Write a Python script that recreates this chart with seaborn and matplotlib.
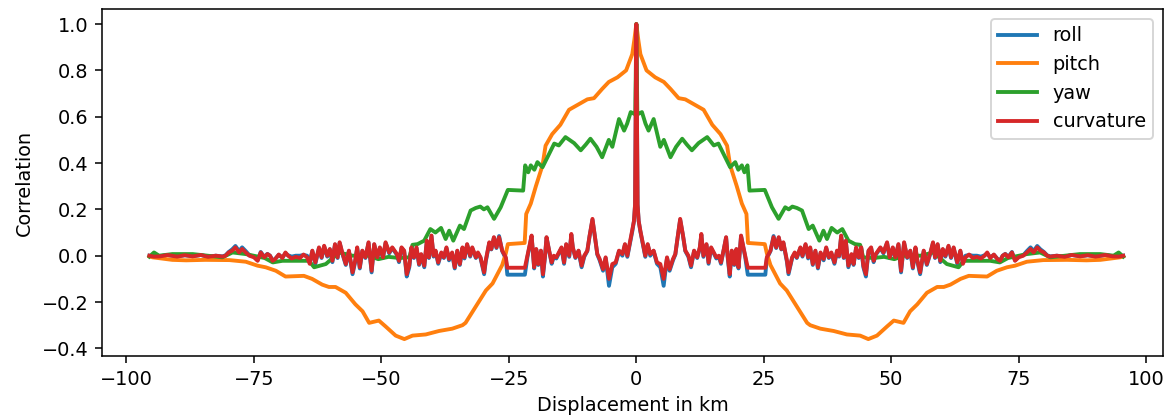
import numpy as np
import pandas as pd
import matplotlib
matplotlib.use("Agg")
import matplotlib.pyplot as plt
import seaborn as sns

# Correlation vs displacement for displacement >= 0.
# The curves are autocorrelations, so the negative side is the mirror image.
series_names = ["roll", "pitch", "yaw", "curvature"]

pitch_x = [0.0, 0.4, 0.8, 2.0, 3.7, 5.4, 6.7, 8.3, 9.6, 11.2, 13.2, 14.9, 16.5, 17.8,
           18.4, 19.7, 20.7, 21.6, 21.9, 25.2, 25.6, 26.3, 28.2, 29.5, 31.5, 33.5, 34.1,
           36.1, 38.7, 41.3, 43.9, 45.5, 47.2, 49.2, 50.5, 52.4, 53.7, 55.1, 57.0, 59.0,
           60.3, 61.6, 63.6, 65.2, 68.8, 70.7, 72.7, 74.3, 76.6, 79.8, 84.5, 88.3, 91.0,
           94.9, 95.5]
pitch_y = [1.0, 0.93, 0.87, 0.80, 0.77, 0.75, 0.72, 0.68, 0.675, 0.655, 0.63, 0.565, 0.525,
           0.475, 0.39, 0.30, 0.225, 0.18, 0.055, 0.05, 0.01, -0.04, -0.12, -0.15, -0.22,
           -0.29, -0.30, -0.315, -0.325, -0.34, -0.345, -0.36, -0.345, -0.305, -0.28, -0.29,
           -0.24, -0.21, -0.16, -0.135, -0.135, -0.125, -0.10, -0.087, -0.09, -0.065, -0.05,
           -0.043, -0.026, -0.019, -0.018, -0.02, -0.018, -0.007, -0.003]

yaw_x = [0.0, 0.2, 1.1, 1.8, 2.4, 3.4, 4.0, 4.7, 5.4, 6.7, 7.8, 9.0, 9.9, 10.9, 12.2, 13.9,
         15.2, 16.1, 17.4, 18.4, 19.4, 20.0, 20.7, 21.2, 21.8, 22.2, 25.2, 26.6, 27.9, 29.2,
         29.9, 30.6, 31.5, 32.5, 33.8, 34.6, 35.9, 36.7, 37.4, 38.3, 39.4, 40.4, 41.6, 42.9,
         43.9, 44.5, 46.5, 48.6, 50.6, 52.6, 55.7, 58.3, 60.9, 63.2, 64.2, 69.4, 71.3, 72.9,
         76.6, 79.2, 81.2, 87.0, 91.0, 93.6, 94.6, 95.5]
yaw_y = [1.0, 0.61, 0.62, 0.57, 0.54, 0.59, 0.534, 0.47, 0.50, 0.425, 0.47, 0.505, 0.48,
         0.455, 0.486, 0.512, 0.476, 0.484, 0.426, 0.382, 0.404, 0.371, 0.39, 0.36, 0.39,
         0.281, 0.284, 0.209, 0.159, 0.209, 0.20, 0.212, 0.206, 0.195, 0.115, 0.13, 0.065,
         0.108, 0.072, 0.12, 0.10, 0.115, 0.065, 0.05, 0.047, -0.007, -0.01, -0.005, -0.015,
         0.0, 0.0, 0.014, -0.036, -0.05, -0.022, -0.022, -0.029, -0.01, 0.007, 0.014, -0.007,
         0.007, 0.007, 0.0, 0.014, -0.004]

curv_x = [0.0, 0.25, 0.46, 0.79, 1.32, 1.76, 2.23, 2.73, 3.39, 4.05, 4.71, 5.36, 6.02, 6.53,
          7.19, 7.65, 8.1, 8.6, 9.16, 9.61, 10.22, 10.73, 11.33, 11.94, 12.45, 12.75, 13.16,
          13.76, 14.17, 14.67, 15.18, 15.69, 16.19, 16.6, 17.1, 17.61, 17.91, 18.32, 18.72,
          19.23, 19.63, 20.04, 20.54, 20.95, 21.35, 21.86, 25.3, 25.6, 26.31, 26.92, 27.43,
          27.93, 28.44, 28.84, 29.55, 29.85, 30.56, 31.07, 31.47, 32.18, 32.59, 33.19, 33.7,
          34.1, 34.61, 35.12, 35.62, 36.13, 36.74, 37.24, 37.75, 38.25, 38.86, 39.37, 39.77,
          40.18, 40.68, 41.09, 41.59, 42.2, 42.61, 43.11, 43.62, 44.12, 44.53, 45.03, 45.54,
          46.05, 46.55, 46.96, 47.87, 48.47, 49.18, 49.69, 50.3, 50.8, 51.41, 51.92, 52.52,
          53.13, 53.74, 54.24, 54.75, 55.15, 55.66, 56.37, 56.98, 57.68, 58.19, 58.59, 59.1,
          59.61, 60.11, 60.62, 61.23, 61.73, 62.24, 62.95, 63.55, 64.06, 64.57, 65.27, 65.98,
          66.79, 67.6, 68.31, 68.82, 69.42, 70.13, 70.84, 71.35, 71.85, 72.36, 72.97, 73.67,
          74.28, 74.99, 75.9, 76.61, 77.32, 77.92, 78.63, 79.24, 79.95, 80.56, 81.16, 82.48,
          84.0, 85.41, 87.03, 88.55, 90.07, 91.99, 93.41, 94.62, 95.5]
curv_y = [1.0, 0.22, 0.15, 0.108, 0.05, 0.0, 0.05, 0.007, 0.022, -0.029, -0.036, -0.10,
          -0.007, -0.058, -0.014, 0.007, 0.08, 0.159, 0.087, 0.022, 0.0, -0.043, 0.022,
          -0.007, 0.036, 0.094, 0.0, 0.05, -0.029, 0.036, 0.014, -0.007, 0.0, -0.029, 0.022,
          0.08, 0.0, -0.08, 0.022, -0.036, 0.029, -0.05, 0.087, 0.043, 0.0, -0.052, -0.052,
          -0.007, 0.022, 0.08, 0.036, 0.08, 0.029, 0.058, -0.022, -0.072, -0.007, 0.014,
          -0.007, 0.036, 0.0, 0.05, -0.007, 0.036, -0.036, 0.022, -0.05, 0.014, -0.014, 0.036,
          -0.007, 0.014, -0.029, 0.022, 0.0, 0.087, -0.007, 0.065, -0.043, 0.007, -0.036,
          0.036, -0.007, 0.036, -0.043, -0.08, 0.022, 0.036, -0.022, 0.007, 0.036, 0.014,
          0.058, -0.007, 0.036, -0.007, 0.05, -0.065, 0.058, -0.007, 0.022, -0.05, 0.036,
          -0.022, -0.072, 0.022, -0.036, 0.014, 0.058, -0.007, 0.05, -0.022, 0.029, 0.0,
          0.043, -0.007, 0.036, -0.029, 0.022, -0.035, -0.007, 0.005, -0.01, -0.005, -0.012,
          0.0, 0.014, -0.01, 0.005, -0.015, -0.022, 0.0, 0.007, -0.007, 0.014, -0.022, -0.007,
          0.0, 0.014, 0.029, 0.014, 0.036, 0.022, 0.014, 0.0, -0.004, 0.0, -0.005, 0.003,
          -0.003, 0.002, -0.004, 0.003, -0.003, -0.004, 0.0]

# roll sits almost under curvature, a bit lower in the dips and on the step
roll_x = curv_x
roll_y = [1.0, 0.22, 0.15, 0.105, 0.045, -0.005, 0.048, 0.0, 0.02, -0.035, -0.05, -0.13,
          -0.01, -0.065, -0.02, 0.005, 0.078, 0.155, 0.085, 0.02, -0.005, -0.05, 0.02,
          -0.01, 0.033, 0.09, -0.005, 0.048, -0.035, 0.033, 0.01, -0.012, -0.004, -0.035,
          0.02, 0.078, -0.005, -0.09, 0.02, -0.04, 0.027, -0.055, 0.085, 0.04, -0.005, -0.082,
          -0.082, -0.012, 0.02, 0.085, 0.033, 0.078, 0.027, 0.055, -0.028, -0.08, -0.01, 0.01,
          -0.01, 0.033, -0.004, 0.048, -0.012, 0.033, -0.04, 0.02, -0.055, 0.01, -0.02, 0.033,
          -0.01, 0.01, -0.035, 0.02, -0.004, 0.085, -0.01, 0.062, -0.05, 0.004, -0.04, 0.033,
          -0.01, 0.033, -0.05, -0.09, 0.02, 0.033, -0.028, 0.004, 0.033, 0.01, 0.055, -0.01,
          0.033, -0.01, 0.048, -0.072, 0.055, -0.01, 0.02, -0.055, 0.033, -0.028, -0.08, 0.02,
          -0.04, 0.01, 0.055, -0.01, 0.048, -0.028, 0.027, -0.004, 0.04, -0.01, 0.033, -0.035,
          0.02, -0.03, 0.0, 0.003, 0.0, 0.0, -0.004, 0.002, 0.01, -0.008, 0.004, -0.014,
          -0.02, 0.0, 0.008, -0.005, 0.016, -0.02, -0.004, 0.002, 0.02, 0.036, 0.02, 0.042,
          0.028, 0.016, 0.002, -0.003, 0.0, -0.004, 0.003, -0.002, 0.002, -0.003, 0.003,
          -0.002, -0.004, 0.0]

raw = {
    "roll": (roll_x, roll_y),
    "pitch": (pitch_x, pitch_y),
    "yaw": (yaw_x, yaw_y),
    "curvature": (curv_x, curv_y),
}


def mirror(xs, ys):
    xs = np.asarray(xs, dtype=float)
    ys = np.asarray(ys, dtype=float)
    return np.concatenate([-xs[:0:-1], xs]), np.concatenate([ys[:0:-1], ys])


frames = []
for name in series_names:
    x, y = mirror(*raw[name])
    frames.append(pd.DataFrame({"disp": x, "corr": y, "series": name}))
df = pd.concat(frames, ignore_index=True)

colors = sns.color_palette("tab10", 4)

fig = plt.figure(figsize=(1166 / 139, 419 / 139), dpi=139)
ax = fig.add_axes([102 / 1166, 63 / 419, 1061 / 1166, 347 / 419])

sns.lineplot(data=df, x="disp", y="corr", hue="series", hue_order=series_names,
             palette=colors, estimator=None, sort=False, linewidth=2.0, ax=ax)

ax.set_xlim(-104.8, 103.3)
ax.set_ylim(-0.433, 1.065)
ax.set_xlabel("Displacement in km")
ax.set_ylabel("Correlation")

handles, labels = ax.get_legend_handles_labels()
ax.legend(handles, labels, loc="upper right")

fig.savefig("out.png", dpi=139)
